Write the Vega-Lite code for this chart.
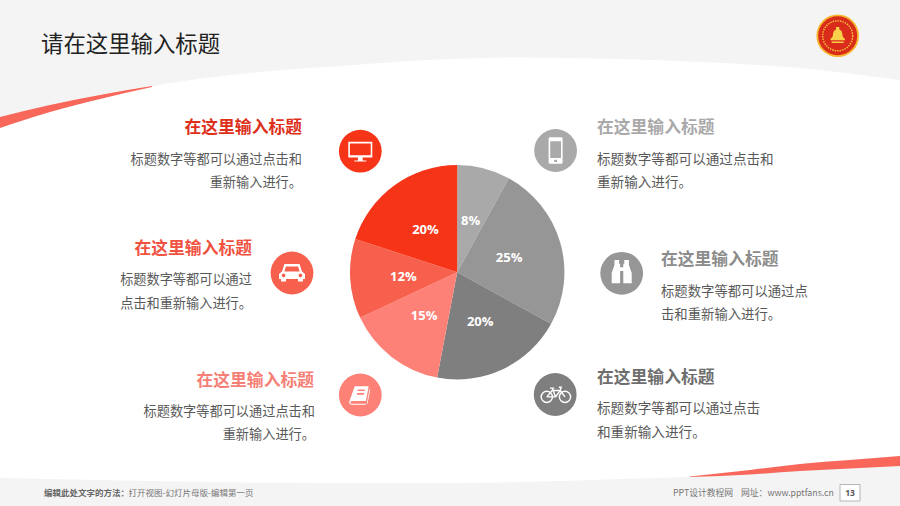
{
"$schema":"https://vega.github.io/schema/vega-lite/v6.json",
"width":900,"height":506,"padding":0,
"autosize":{"type":"fit","contains":"padding"},
"background":"#f4f4f4",
"config":{"view":{"stroke":null},"font":"Noto Sans CJK SC"},
"encoding":{
"x":{"field":"x","type":"quantitative","axis":null,"scale":{"domain":[0,900],"nice":false,"zero":false}},
"y":{"field":"y","type":"quantitative","axis":null,"scale":{"domain":[506,0],"nice":false,"zero":false}}
},
"layer":[
{"data":{"values":[
{"x":0,"y":128,"y2":478},{"x":50,"y":112,"y2":479},{"x":100,"y":99,"y2":480},{"x":150,"y":87,"y2":481},{"x":250,"y":73,"y2":482.5},{"x":340,"y":66,"y2":483},{"x":450,"y":59,"y2":483},{"x":520,"y":57.5,"y2":482},{"x":620,"y":59,"y2":479},{"x":700,"y":62,"y2":476},{"x":800,"y":68,"y2":464},{"x":900,"y":80,"y2":456}]},
"mark":{"type":"area","color":"#ffffff","interpolate":"monotone"},
"encoding":{"y2":{"field":"y2"}}},
{"data":{"values":[
{"x":0,"y":117,"y2":128},{"x":50,"y":105,"y2":112},{"x":100,"y":95,"y2":99},{"x":152,"y":86,"y2":87}]},
"mark":{"type":"area","color":"#f8675a","interpolate":"monotone"},
"encoding":{"y2":{"field":"y2"}}},
{"data":{"values":[
{"x":690,"y":476.5,"y2":477},{"x":750,"y":470,"y2":474.5},{"x":800,"y":464,"y2":471},{"x":850,"y":460,"y2":468.5},{"x":900,"y":456,"y2":466}]},
"mark":{"type":"area","color":"#f8675a","interpolate":"monotone"},
"encoding":{"y2":{"field":"y2"}}},
{"data":{"values":[
{"x":457.2,"y":272.2,"pct":8,"i":1,"seg":"a"},{"x":457.2,"y":272.2,"pct":25,"i":2,"seg":"b"},{"x":457.2,"y":272.2,"pct":20,"i":3,"seg":"c"},{"x":457.2,"y":272.2,"pct":15,"i":4,"seg":"d"},{"x":457.2,"y":272.2,"pct":12,"i":5,"seg":"e"},{"x":457.2,"y":272.2,"pct":20,"i":6,"seg":"f"}]},
"mark":{"type":"arc","radius":107.2},
"encoding":{
"theta":{"field":"pct","type":"quantitative","stack":true,"scale":{"domain":[0,100]}},
"order":{"field":"i"},
"color":{"field":"seg","type":"nominal","legend":null,"scale":{"domain":["a","b","c","d","e","f"],"range":["#a9a9a9","#969696","#7f7f7f","#fe8177","#f8604e","#f63518"]}}}},
{"data":{"values":[
{"x":457.2,"y":272.2,"pct":8,"i":1,"lab":"8%"},{"x":457.2,"y":272.2,"pct":25,"i":2,"lab":"25%"},{"x":457.2,"y":272.2,"pct":20,"i":3,"lab":"20%"},{"x":457.2,"y":272.2,"pct":15,"i":4,"lab":"15%"},{"x":457.2,"y":272.2,"pct":12,"i":5,"lab":"12%"},{"x":457.2,"y":272.2,"pct":20,"i":6,"lab":"20%"}]},
"mark":{"type":"text","radius":54,"dy":1,"font":"Open Sans","fontWeight":"bold","fontSize":13,"color":"#ffffff","baseline":"middle"},
"encoding":{
"theta":{"field":"pct","type":"quantitative","stack":true,"scale":{"domain":[0,100]}},
"order":{"field":"i"},
"text":{"field":"lab"}}},
{"data":{"values":[
{"x":360.3,"y":151.2,"icon":"monitor"},{"x":555.6,"y":150.5,"icon":"phone"},{"x":292,"y":273,"icon":"car"},{"x":621.7,"y":273.3,"icon":"binoculars"},{"x":360.3,"y":395,"icon":"book"},{"x":555.2,"y":394.5,"icon":"bike"}]},
"mark":{"type":"point","shape":"circle","filled":true,"size":1830,"opacity":1},
"encoding":{"color":{"field":"icon","type":"nominal","legend":null,"scale":{"domain":["monitor","phone","car","binoculars","book","bike"],"range":["#f63518","#a9a9a9","#f8604e","#969696","#fe8177","#7f7f7f"]}}}},
{"data":{"values":[
{"x":360.3,"y":151.2,"icon":"monitor"},{"x":555.6,"y":150.5,"icon":"phone"},{"x":292,"y":273,"icon":"car"},{"x":621.7,"y":273.3,"icon":"binoculars"},{"x":360.3,"y":395.5,"icon":"book"}]},
"mark":{"type":"point","filled":true,"size":1600,"opacity":1,"color":"#ffffff"},
"encoding":{"shape":{"field":"icon","type":"nominal","legend":null,"scale":{"domain":["monitor","phone","car","binoculars","book"],"range":[
"M -0.6 -0.47 H 0.6 V 0.32 H -0.6 Z M -0.52 -0.39 V 0.2 H 0.52 V -0.39 Z M -0.12 0.32 H 0.12 V 0.46 H 0.3 V 0.52 H -0.3 V 0.46 H -0.12 Z",
"M -0.35 -0.6 Q -0.35 -0.66 -0.28 -0.66 H 0.28 Q 0.35 -0.66 0.35 -0.6 V 0.6 Q 0.35 0.66 0.28 0.66 H -0.28 Q -0.35 0.66 -0.35 0.6 Z M -0.27 -0.46 V 0.38 H 0.27 V -0.46 Z M -0.07 0.46 V 0.58 H 0.07 V 0.46 Z",
"M -0.38 -0.45 H 0.38 L 0.5 -0.08 L 0.65 0.05 V 0.3 H 0.55 V 0.43 H 0.3 V 0.3 H -0.3 V 0.43 H -0.55 V 0.3 H -0.65 V 0.05 L -0.5 -0.08 Z M -0.3 -0.33 L -0.38 -0.08 H 0.38 L 0.3 -0.33 Z M -0.51 0.12 A 0.09 0.09 0 1 0 -0.33 0.12 A 0.09 0.09 0 1 0 -0.51 0.12 Z M 0.33 0.12 A 0.09 0.09 0 1 0 0.51 0.12 A 0.09 0.09 0 1 0 0.33 0.12 Z",
"M -0.36 -0.66 H -0.13 V -0.48 H -0.08 V 0.5 H -0.5 V -0.02 L -0.36 -0.42 Z M 0.13 -0.66 H 0.36 V -0.42 L 0.5 -0.02 V 0.5 H 0.08 V -0.48 H 0.13 Z M -0.08 -0.3 H 0.08 V -0.12 H -0.08 Z",
"M -0.28 -0.46 H 0.42 L 0.28 0.28 H -0.42 Q -0.5 0.28 -0.5 0.36 Q -0.5 0.41 -0.42 0.41 H 0.28 V 0.46 H -0.42 Q -0.56 0.46 -0.56 0.34 Z M -0.12 -0.3 L -0.14 -0.22 H 0.22 L 0.24 -0.3 Z M -0.16 -0.12 L -0.18 -0.04 H 0.18 L 0.2 -0.12 Z M 0.46 -0.3 L 0.5 -0.3 L 0.36 0.41 H 0.32 Z"
]}}}},
{"data":{"values":[{"x":555.2,"y":394.5,"icon":"bike"}]},
"mark":{"type":"point","filled":false,"size":1600,"opacity":1,"stroke":"#ffffff","strokeWidth":1.4,"shape":"M -0.7 0.12 A 0.28 0.28 0 1 1 -0.14 0.12 A 0.28 0.28 0 1 1 -0.7 0.12 Z M 0.21 0.12 A 0.28 0.28 0 1 1 0.77 0.12 A 0.28 0.28 0 1 1 0.21 0.12 Z M -0.42 0.12 L -0.15 -0.2 H 0.25 L 0.49 0.12 M -0.42 0.12 H 0.02 L 0.25 -0.2 M 0.02 0.12 L -0.15 -0.32 M -0.26 -0.32 H -0.05 M 0.18 -0.36 H 0.3 L 0.25 -0.2"}},
{"data":{"values":[{"x":837.7,"y":35.8,"ring":"outer"},{"x":837.7,"y":35.8,"ring":"inner"}]},
"mark":{"type":"point","shape":"circle","filled":true,"opacity":1},
"encoding":{
"color":{"field":"ring","type":"nominal","legend":null,"scale":{"domain":["outer","inner"],"range":["#f6b62e","#da2c1a"]}},
"size":{"field":"ring","type":"nominal","legend":null,"scale":{"domain":["outer","inner"],"range":[1815,1520]}},
"order":{"field":"ring","sort":"descending"}}},
{"data":{"values":[{"x":837.7,"y":35.8}]},
"mark":{"type":"point","shape":"circle","filled":false,"opacity":1,"size":900,"stroke":"#f6c23e","strokeWidth":1.4,"strokeDash":[1.5,1]}},
{"data":{"values":[{"x":837.7,"y":35.5}]},
"mark":{"type":"point","filled":true,"opacity":1,"size":1600,"color":"#f8d04a","shape":"M -0.08 -0.42 H 0.08 V -0.3 Q 0.24 -0.25 0.24 0 Q 0.24 0.1 0.36 0.16 V 0.24 H -0.36 V 0.16 Q -0.24 0.1 -0.24 0 Q -0.24 -0.25 -0.08 -0.3 Z M -0.3 0.3 H 0.3 V 0.38 H -0.3 Z"}},
{"data":{"values":[{"x":41,"y":44.5,"t":"请在这里输入标题"}]},
"mark":{"type":"text","align":"left","baseline":"middle","fontSize":22.4,"color":"#222222"},
"encoding":{"text":{"field":"t"}}},
{"data":{"values":[
{"x":302,"y":127.5,"t":"在这里输入标题","c":"a"},{"x":252,"y":248.5,"t":"在这里输入标题","c":"b"},{"x":314,"y":380.5,"t":"在这里输入标题","c":"c"}]},
"mark":{"type":"text","align":"right","baseline":"middle","fontSize":16.8,"fontWeight":"bold"},
"encoding":{"text":{"field":"t"},"color":{"field":"c","type":"nominal","legend":null,"scale":{"domain":["a","b","c"],"range":["#dc301b","#f0523f","#f58076"]}}}},
{"data":{"values":[
{"x":597,"y":127.5,"t":"在这里输入标题","c":"a"},{"x":661,"y":259.5,"t":"在这里输入标题","c":"b"},{"x":597,"y":377.5,"t":"在这里输入标题","c":"c"}]},
"mark":{"type":"text","align":"left","baseline":"middle","fontSize":16.8,"fontWeight":"bold"},
"encoding":{"text":{"field":"t"},"color":{"field":"c","type":"nominal","legend":null,"scale":{"domain":["a","b","c"],"range":["#a9a9a9","#8c8c8c","#6e6e6e"]}}}},
{"data":{"values":[
{"x":302,"y":160,"t":"标题数字等都可以通过点击和"},{"x":302,"y":183,"t":"重新输入进行。"},
{"x":252,"y":280,"t":"标题数字等都可以通过"},{"x":252,"y":304,"t":"点击和重新输入进行。"},
{"x":315,"y":412,"t":"标题数字等都可以通过点击和"},{"x":315,"y":435,"t":"重新输入进行。"}]},
"mark":{"type":"text","align":"right","baseline":"middle","fontSize":13.2,"color":"#595959"},
"encoding":{"text":{"field":"t"}}},
{"data":{"values":[
{"x":597,"y":160,"t":"标题数字等都可以通过点击和"},{"x":597,"y":183,"t":"重新输入进行。"},
{"x":597,"y":409,"t":"标题数字等都可以通过点击"},{"x":597,"y":433,"t":"和重新输入进行。"}]},
"mark":{"type":"text","align":"left","baseline":"middle","fontSize":13.6,"color":"#595959"},
"encoding":{"text":{"field":"t"}}},
{"data":{"values":[
{"x":661,"y":292,"t":"标题数字等都可以通过点"},{"x":661,"y":315,"t":"击和重新输入进行。"}]},
"mark":{"type":"text","align":"left","baseline":"middle","fontSize":13.35,"color":"#595959"},
"encoding":{"text":{"field":"t"}}},
{"data":{"values":[{"x":44,"y":493,"t":"编辑此处文字的方法："}]},
"mark":{"type":"text","align":"left","baseline":"middle","fontSize":8.5,"fontWeight":"bold","color":"#666666"},
"encoding":{"text":{"field":"t"}}},
{"data":{"values":[
{"x":128.5,"y":493,"t":"打开视图-幻灯片母版-编辑第一页"}]},
"mark":{"type":"text","align":"left","baseline":"middle","fontSize":8.5,"color":"#777777"},
"encoding":{"text":{"field":"t"}}},
{"data":{"values":[
{"x":673,"y":493,"t":"PPT设计教程网"},{"x":741,"y":493,"t":"网址：www.pptfans.cn"}]},
"mark":{"type":"text","align":"left","baseline":"middle","fontSize":8.8,"color":"#777777"},
"encoding":{"text":{"field":"t"}}},
{"data":{"values":[{"x":840,"x2":860,"y":484.5,"y2":501}]},
"mark":{"type":"rect","fill":"#ffffff","stroke":"#b5b5b5","strokeWidth":1},
"encoding":{"x2":{"field":"x2"},"y2":{"field":"y2"}}},
{"data":{"values":[{"x":850,"y":492.5,"t":"13"}]},
"mark":{"type":"text","align":"center","baseline":"middle","font":"Open Sans","fontSize":8.5,"fontWeight":"bold","color":"#555555"},
"encoding":{"text":{"field":"t"}}}
],
"resolve":{"scale":{"color":"independent","size":"independent","shape":"independent"}}
}
